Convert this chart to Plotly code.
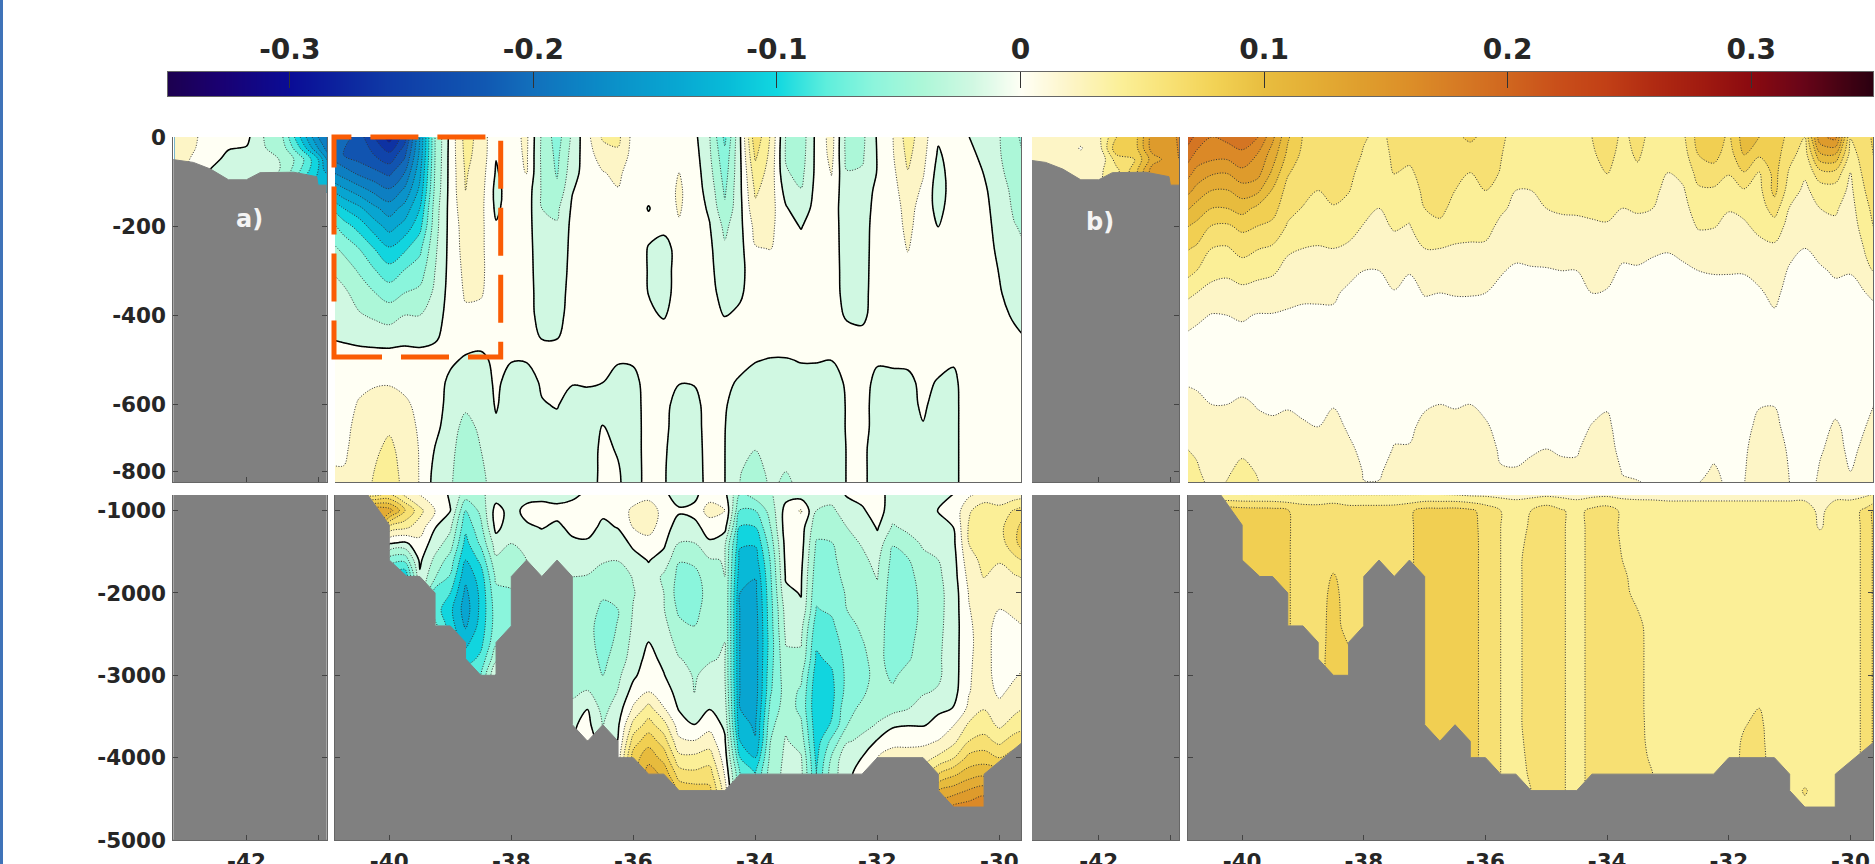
import numpy as np
import plotly.graph_objects as go

# ---------- data: field values in 0.01 units, one list per longitude ----------
lons = [-41,-40.75,-40.5,-40.25,-40,-39.75,-39.5,-39.25,-39,-38.75,-38.5,-38.25,-38,-37.75,-37.5,-37.25,-37,-36.75,-36.5,-36.25,-36,-35.75,-35.5,-35.25,-35,-34.75,-34.5,-34.25,-34,-33.75,-33.5,-33.25,-33,-32.75,-32.5,-32.25,-32,-31.75,-31.5,-31.25,-31,-30.75,-30.5,-30.25,-30,-29.75,-29.5]
upper_depths = [0,40,80,120,160,200,250,300,350,400,450,500,550,600,650,700,750,790]
lower_depths = [800,1000,1200,1400,1600,1800,2000,2200,2400,2600,2800,3000,3200,3400,3600,3800,4000,4200,4400,4600]
left_lons = [-43,-42.75,-42.5,-42.25,-42,-41.75,-41.5,-41.25,-41,-40.75]
left_depths = [0,25,50,75,100,125]

a_upper = [
[-18,-18.5,-15.5,-11.5,-7.5,-5,-3.2,-1.9,-1.2,-.7,-.05,1,1,1.1,1.6,1.8,2.1,2.4],
[-19,-20,-17,-13.5,-10,-7,-4.5,-2.8,-1.6,-1,-.3,1,1.5,1.5,1.6,1.7,2.1,2.5],
[-21,-21,-18.5,-15,-11.5,-8.8,-6,-4.2,-2.8,-1.8,-.6,1,1.7,2.1,2.4,2.7,3,3.2],
[-24,-22,-19.5,-16.5,-13.5,-11,-8,-5.8,-3.9,-2.3,-.8,1,1.9,2.3,2.8,3.5,4,4.2],
[-27,-23.5,-20.5,-17.7,-15,-12.8,-9.8,-7.2,-4.9,-2.8,-.9,1,1.9,2.5,3.6,4.6,5,5.2],
[-23,-20.5,-18,-15.6,-13.3,-11.3,-8.4,-5.9,-4,-2,-.6,1,1.7,2.2,2.6,3,3.3,3.5],
[-14,-13.5,-12.5,-11.5,-10,-8.7,-6.5,-5,-3.5,-2,-.8,1,1.5,1.7,1.8,1.9,1.9,1.9],
[-4,-4,-3.8,-3.5,-3,-2.8,-2.4,-2,-1.6,-1,-.3,1,1,1.2,.7,-.1,-.6,-.8],
[.6,.7,.7,.7,.7,.7,.7,.7,.8,.9,.9,.4,-.5,-1,-1.3,-1.5,-1.6,-1.7],
[4.8,4.5,4.2,4,3.5,3,2.8,2.5,2.2,1.7,1,-.3,-1,-1.7,-2.5,-3,-3.6,-4.2],
[3.3,3.3,3,2.8,2.6,2.5,2.4,2.4,2.2,1.4,.8,-.5,-1.2,-1.5,-1.7,-2,-2.3,-2.5],
[.3,.1,-.2,-.6,-.4,.2,.6,.8,.9,1,.7,.5,.4,.2,-.3,-.8,-1.2,-1.3],
[1.3,1.2,1,1,1,1,1,1,1,1,1,.1,-.8,-1.1,-1.3,-1.4,-1.5,-1.6],
[2.4,2.3,2.1,1.2,1,1,1,1,1,1,1,.1,-.7,-1,-1.2,-1.3,-1.4,-1.5],
[-2.3,-2.4,-2.3,-2.2,-2,-1.8,-1.5,-1.3,-1.1,-.9,-.1,.8,.2,-.1,-.4,-.6,-.7,-.8],
[-5,-4.5,-4.2,-3.6,-2.4,-1.8,-1.5,-1.3,-1,-.8,-.1,1,.5,.1,-.4,-.5,-.6,-.7],
[-1.6,-1.2,-.8,-.1,.3,.5,.6,.7,.8,1,1,.9,.1,-.6,-1,-1.1,-1.2,-1.3],
[1.5,1.2,1,1,1,1,1,1,1,1,1,.8,.2,-.7,-1,-1.1,-1.2,-1.2],
[4.3,3,1.9,1.4,1,1,1,1,1,1,1,.7,.02,-.8,.1,.5,.6,.7],
[4.5,3.6,2.4,1.9,1.2,1,1,1,1,1,1,.2,-.8,-1,-.7,-.2,.2,.3],
[1.3,1.2,1,1,1,1,1,1,1,1,1,.3,-.7,-1,-1.1,-1.1,-1.2,-1.2],
[1,1,1,.6,-.1,.5,-.1,-.1,-.05,.4,1,1,1,1,1,1,1,1],
[1,1,1,1,.9,.7,-1,-1,-.9,-.2,1,1,1,.6,.5,.3,.2,.2],
[1,1.2,2,2.3,2.2,1.8,1,1,1,1,1,1,.1,-.8,-1,-1.1,-1.2,-1.2],
[.5,.8,1,1,1,1,1,1,1,1,1,1,.15,-.7,-.9,-1,-1,-1],
[-1.9,-1.7,-1.3,-.8,-.3,.1,.4,.5,.6,.8,1,1,1,1,1,.9,.8,.7],
[-6.5,-5.5,-4.9,-4.3,-3.7,-2.5,-1.7,-1.2,-.7,-.1,1,1,.7,.2,.05,.02,.02,.02],
[-.2,-.3,-.4,-.4,-.5,-.5,-.6,-.7,-.3,.4,1,1,-.4,-1,-1.3,-1.6,-1.9,-2.1],
[7.5,6.4,5.2,4.3,3.6,2.6,1.9,1.5,1.1,1,1,.1,-.7,-1.1,-1.4,-1.95,-2.8,-3.5],
[3.8,3.5,3.2,3,2.8,2.5,2.05,1.4,1,1,1,-.1,-.6,-.9,-1.1,-1.3,-1.5,-1.7],
[-2.1,-2.2,-1.8,-.8,.2,.6,.8,1,1,1,1,-.1,-.7,-1,-1.3,-1.6,-1.99,-2.5],
[-3.2,-3,-2.6,-1.9,-1.2,-.1,.6,1,1,1,1,.1,-.6,-.9,-1,-1.2,-1.4,-1.6],
[.5,.5,.5,.6,.8,.9,1,1,1,1,1,.1,-.6,-.8,-.9,-1,-1,-1],
[2.8,2.6,2.1,1.5,1,1,1,1,1,1,1,.02,-.6,-.8,-.8,-.8,-.8,-.8],
[-2.7,-2.6,-1.9,-1.5,-1.2,-1.1,-1,-.9,-.8,-.3,.9,.8,.2,.1,.1,.05,.05,.05],
[-2.5,-2.3,-1.8,-1.4,-1.1,-1,-.9,-.8,-.7,-.5,.6,1,1,.9,.9,.5,.5,.5],
[.2,.1,.1,.6,.8,1,1,1,1,1,1,.3,-.7,-1,-1,-1,-1,-1],
[1.9,1.8,1.5,1.2,1,1,1,1,1,1,1,.3,-.5,-.9,-1,-1,-1,-1],
[5,4.5,3.9,3.3,2.8,2.5,2.1,1.5,1.2,1,1,.5,-.6,-.6,-.7,-.9,-1,-1],
[2.8,2.6,2.2,1.6,1.1,1,1,1,1,1,1,1,.6,.3,-.1,-.6,-.9,-1],
[.3,-.3,-.8,-1,-.6,-.05,.5,.7,.8,.9,.9,.8,-.2,-.7,-.9,-1,-1,-1],
[1,1,1,1,1,1,1,1,1,1,1,.2,-.4,-.5,-.5,-.5,-.5,-.5],
[.02,.4,.7,.8,.9,1,1,1,1,1,1,1,1,1,1,1,1,1],
[-.8,-.4,-.05,.2,.3,.4,.5,.6,.7,.8,1,1,1,1,1,1,1,1],
[-1.9,-1.8,-1.4,-.7,-.5,-.4,-.25,-.05,.1,.4,.7,1,1,1,1,1,1,1],
[-3.8,-3.6,-3.3,-2.8,-2.4,-1.9,-1.3,-.8,-.5,-.2,.3,1,1,1,1,1,1,1],
[-4.5,-4.3,-4,-3.5,-3,-2.6,-2.2,-1.7,-1.1,-.7,-.1,1,1,1,1,1,1,1],
]

b_upper = [
[22,20,18,15.5,13,10.5,8.5,7,5,3,1.9,1.5,1.9,2.8,3.6,4.2,5,5.5],
[19.5,17.5,15.3,13.4,11.2,9.5,7.7,6,4,2.4,1.5,1,1.7,2.5,3.1,3.7,4.3,4.8],
[18,16.8,14.3,12,10,7.9,6,4.7,3.3,1.9,1.3,1,1.3,2,2.4,2.8,3.1,3.7],
[18.6,16.7,14.1,11.9,10,7.7,5.8,4.4,3.2,2,1.4,1,1.3,2,2.7,3.3,3.8,4.2],
[19,17.6,15.4,13,10.8,8.5,6.7,5,3.4,2.2,1.5,1,1.4,2.3,3,3.7,4.4,4.9],
[18.2,15.9,14.8,12.5,9.5,8,6.1,4.6,3.2,1.9,1.4,1,1.2,1.9,2.4,3.3,3.9,4.2],
[14.5,13,11.6,9.8,8.8,7.5,5.7,4.3,3,1.9,1.4,1,1.2,1.8,2.2,2.6,3,3.2],
[10.3,9.5,8.2,7.3,6.6,5.8,4.3,3.4,2.5,1.8,1.3,1,1.2,1.9,2.3,2.6,2.9,3.1],
[7.9,7.5,7,6.6,5.9,5.1,4,3.2,2.3,1.7,1.3,1,1.1,1.6,2.2,2.4,2.6,2.7],
[7.6,7.2,6.8,6,5.2,4.7,3.9,3.1,2.3,1.7,1.2,1,1,1.3,2,2.4,2.6,2.7],
[7.6,7.2,6.7,6.4,5.9,5.2,4,3.1,2.3,1.7,1.2,1,1,1.9,2.5,2.8,3,3.1],
[7.4,7,6.5,6.1,5.4,4.7,3.7,2.6,1.6,1.2,1,.9,.9,1.1,1.8,2.3,2.9,3.6],
[6.2,5.8,5.3,5,4.6,3.9,3,2,1.5,1.1,1,.8,.8,1,1.3,1.6,1.9,2.1],
[5.5,5.3,5,4.6,4,3.5,2.8,2,1.5,1.1,1,.8,.8,.9,1,1.3,1.9,2.1],
[6.5,6.3,6.1,5.3,4.8,4.2,3.3,2.6,1.9,1.4,1,.8,.9,1.1,1.6,2.1,2.3,2.4],
[7.1,6.6,5.6,5.1,4.5,3.9,2.9,2.1,1.5,1.2,1,.8,.9,1.2,1.7,2.1,2.3,2.4],
[7.6,7.2,6.9,6.4,6,5.2,4,3.1,2.1,1.4,1.1,.8,1,1.8,2.4,2.6,2.7,2.8],
[7.8,7.5,7.2,6.9,6.5,5.6,4,3,2,1.4,1.1,.8,1,2,2.4,2.7,2.9,3],
[7.8,7.4,6.7,6,5.4,4.8,3.8,3,2.1,1.4,1.1,.8,1,1.9,2.4,2.7,2.9,3.1],
[8.2,7.5,6,5.5,5,4.5,3.8,3,2.1,1.4,1,.8,1.2,2,2.5,3,3.6,4.1],
[7.7,7.2,6.7,6,5.3,4.6,3.7,2.9,2,1.4,1,.8,1,1.6,2.2,2.6,2.9,3],
[6.3,6.1,5.9,4.9,4.3,3.6,2.9,2.1,1.7,1.4,1,.8,.9,1.2,1.5,1.8,2.1,2.2],
[5.4,5.1,4.6,4,3.6,3.1,2.4,1.8,1.4,1.1,1,.8,.8,1,1.3,1.6,2.1,2.2],
[5.2,4.9,4.5,4,3.5,3,2.4,1.9,1.5,1.2,1,.8,.9,1.1,1.4,1.9,2.2,2.3],
[5.2,5,4.7,4.4,4,3.3,2.6,1.9,1.5,1.2,1,.8,.9,1.1,1.5,2,2.3,2.4],
[5.2,5,4.8,4.5,4.2,3.6,2.7,2,1.5,1.2,1,.8,.9,1.1,1.5,1.9,2.2,2.3],
[5.5,5.3,5,4.7,4.2,3.7,2.8,2,1.6,1.3,1,.8,.9,1.1,1.4,1.9,2.2,2.3],
[6,5.8,5.2,4.7,4.3,3.8,3,2.4,2,1.4,1,.8,.9,1.4,2.1,2.4,2.6,2.7],
[6.8,6.5,6.1,5.2,4.6,3.8,3,2.4,1.9,1.4,1,.8,1,1.8,2.4,2.6,2.7,2.8],
[5.7,5.5,5,4.6,4,3.3,2.4,1.8,1.4,1.1,1,.8,.8,.9,1.1,1.5,1.95,2.2],
[6.4,6.2,5.7,4.8,4.2,3.5,2.6,1.8,1.4,1.1,1,.8,.8,.9,1.1,1.5,1.9,2.1],
[5.6,5.3,4.9,4.5,4,3.3,2.2,1.7,1.3,1.1,1,.8,.8,.9,1.1,1.4,1.9,2],
[5.4,5,4,3.4,3,2.7,2.1,1.6,1.2,1,1,.8,.8,.8,.9,1.1,1.4,1.6],
[5.6,5.1,4.5,3.8,3.4,3,2.3,1.8,1.4,1.1,1,.8,.8,.9,1.1,1.4,1.8,2],
[8.8,8,6.7,5.7,4.9,4.2,2.9,2,1.5,1.1,1,.8,.9,1,1.4,1.6,1.8,2.1],
[9.2,8.7,7.2,5.7,4.9,4.1,3,2.1,1.5,1.2,1,.8,.9,1,1.4,1.8,2.1,2.2],
[7.6,7,6.1,5.4,4.1,3.6,2.9,2.1,1.5,1.2,1,.8,.9,1,1.4,1.7,1.8,1.9],
[11,10,7.9,5.8,4.5,3.7,3,2.1,1.5,1.2,1,.8,.9,1,1.5,1.8,1.9,2],
[10,8.3,5.9,5.4,5,4.5,3.4,2.5,1.8,1.3,1,.8,1.2,1.9,2.4,2.6,2.8,2.9],
[9,8.9,8.7,8.6,6.9,5.1,3.6,2.9,2.4,1.8,1.2,.9,1.3,1.95,2.4,2.9,3.3,4.1],
[7.5,6.7,5.7,4.9,3.9,3.3,2.5,1.8,1.4,1.1,1,.8,.9,1.1,1.4,1.7,1.9,2.05],
[6,5,4.3,3.6,3,2.6,2,1.6,1.2,1,1,.8,.8,.9,1,1.2,1.4,1.6],
[15.5,11.6,7.3,4.9,4,3.4,2.5,1.8,1.3,1,1,.8,.8,1,1.5,1.9,2.1,2.2],
[16.8,11.8,7.4,5,4.2,3.7,2.9,2.2,1.6,1.2,1,.8,.9,1.6,2.2,2.3,2.5,2.7],
[6.1,5.2,4,3.6,3.3,3,2.6,2.1,1.5,1.2,1,.8,.9,1.3,1.6,1.8,2,2.1],
[7.5,7,6.8,6.1,5.5,5,4.2,3.6,2,1.5,1,.8,1,1.5,2,2.2,2.3,2.4],
[9,9,8.5,8,7.5,7,6,4.5,2.5,1.8,1.1,1.2,1.8,2.4,2.7,2.9,3,3.1],
]

# lower panels: columns stop where the sea floor hides the rest
a_lower = [
[5,14],[5,14],[5,14],[5,14],
[6,13,5.5,.1,-5,-8],
[3.5,8.5,4.5,-.5,-5.5,-10],
[1.9,4.6,3.1,1.3,.4,-.3],
[.9,2,.1,-1,-2.5,-3.8,-7,-7,-5.5],
[-.2,.05,-1.6,-3,-4.9,-6.2,-8,-9.5,-9],
[-3,-6,-7.5,-8.7,-10,-11.5,-12.5,-13,-12.3,-10.5,-9,-7],
[-2.4,-3.5,-4.5,-5.6,-7.5,-9,-9.5,-9.5,-9.2,-8.6,-7.5,-6],
[-1,.8,.6,-1,-2.4,-3.6,-4.5,-5,-5,-4.4,-2.5,.1],
[-1,-.8,-1.2,-2,-2.7,-3.4,-4.2,-4.4,-4.4],
[-.8,.6,-.3,-1,-2],
[-.4,.5,.1,-.8,-1.4,-1.9],
[-.7,.5,-.3,-1,-1.6],
[-.4,.7,.4,-.3,-1.2,-1.95,-3,-3,-3,-3,-3,-2.7,-2.2,-1.7,-.3],
[.3,1,.7,-.3,-1.2,-2.1,-2.8,-3.1,-3.4,-3.3,-3,-2.6,-1.9,-.05,.6,2.1,2.5],
[1,.4,-.4,-1,-1.9,-2.4,-3.7,-4.4,-4.8,-4.8,-4.5,-4,-3.4,-2.7,-2.1],
[.5,1,.1,-1,-1.95,-2.7,-3.4,-4,-3.9,-3.6,-3.1,-2.4,-1.9,-1,-.3,.1,1],
[1,2.4,2.1,.4,-.7,-1.9,-2.1,-1.9,-1.7,-1.4,-1.1,-.4,.8,2.3,4.6,7,9],
[1,3.6,3,1,.1,-.6,-1.2,-.6,-.2,.02,.7,1.2,2,4.7,6.8,9.2,11.3,13],
[.3,1,.7,.3,-.7,-2.4,-2,-1.9,-1.4,-.7,-.5,.1,1,2.1,4.7,7,9.2,11.5,13],
[-.7,.2,-.7,-2.1,-3.9,-4.5,-5,-4.4,-3.5,-2.8,-1.9,-1.5,-.8,-.2,1,2.4,4.6,7,9.5],
[-.4,.4,-.4,-2.1,-3.6,-4.6,-5.2,-4.8,-4,-3.2,-2.5,-2.1,-2.05,-1.3,.02,2.1,4.5,6.5,9],
[1,3,.6,-.2,-2.2,-3,-3,-2.8,-2.6,-2.3,-2.1,-1.7,-1,-.1,1.3,3,5,7,8.5],
[.5,2.1,.7,-1.7,-1.9,-2,-2,-2,-2,-2,-1.9,-1.9,-1.6,-1.1,-.4,.3,1,1.8,3],
[-4,-6.2,-8.2,-9.7,-10.7,-11.3,-12,-12.2,-12.2,-12.2,-12.2,-12.2,-12.1,-12,-11.5,-10,-8,-6],
[-3,-6,-8,-9.8,-10.9,-11.9,-12.5,-12.8,-13,-13,-13,-13,-13,-12.7,-12.2,-11.9,-10,-8],
[-2.2,-3.2,-4,-5,-5.8,-6.2,-6.5,-6.7,-6.8,-7,-6.8,-6.5,-6.2,-5.4,-4.6,-4,-3.4,-3],
[-.8,.8,1,.7,.5,.2,-.4,-1.2,-1.5,-1.9,-2.4,-2.8,-3.1,-3,-2.4,-1.8,-1.6,-1.5],
[-1,2.2,1,.8,.5,.2,.1,-.3,-1.4,-1.9,-2.3,-3.6,-4.3,-4.5,-3.7,-2.9,-1.8,-1.5],
[-1,-2,-3.3,-4.2,-4.7,-5.1,-5.6,-6.1,-7,-7.7,-8.3,-9,-9.4,-9.5,-9.3,-9,-8.5,-8],
[-1.2,-2.4,-3.3,-4.1,-4.5,-4.8,-5.2,-5.7,-6.4,-7,-7.6,-8.3,-8.6,-8.4,-7.8,-5.5,-3.8,-3],
[.2,-1,-2,-2.5,-3,-3.4,-3.8,-4,-4.6,-5.1,-5.4,-5.5,-5.3,-4.5,-4.1,-2.2,-.4,-.6],
[.7,-.3,-1.6,-1.9,-2.3,-2.8,-3,-3.4,-3.7,-4.1,-4.4,-4.6,-4.3,-3.7,-2.5,-1.6,.02,1],
[1,1,.2,-.8,-1.6,-1.9,-2.4,-2.8,-3.1,-3.2,-3.3,-3.4,-3.2,-2.6,-1.9,.2,2],
[-1,-1.2,-2.2,-3.9,-4.5,-4.9,-5,-5,-5,-5,-4.9,-4.3,-3.7,-2.8,-.3,1.2,3.2],
[-.7,-1.4,-1.6,-2.7,-4.2,-4.7,-4.8,-4.8,-4.7,-4.4,-4.2,-3.4,-2.9,-2.1,-.1,1.4,3],
[-.7,-1,-1.3,-1.8,-2.4,-3.1,-3.5,-3.6,-3.5,-3.4,-3.2,-2.9,-2.2,-1.2,-.15,1.5,3.2,5],
[-.6,.1,-.8,-1.6,-2,-2.4,-2.6,-2.6,-2.5,-2.4,-2.3,-2.3,-1.8,-.3,.5,2.1,4.4,8,12,15],
[.02,.6,.02,-.4,-.7,-.8,-1,-1,-1,-.9,-.9,-.9,-.7,.05,1.9,3.5,5.9,9.6,13,16.5],
[1.6,3.7,4.2,4,3.3,2.6,2.1,1.9,1.7,1.6,1.7,1.8,1.9,2.4,4.3,6,8.6,11,14.2,17],
[2.6,5.3,4.9,4.8,4.5,4.1,3.4,3,2.9,2.9,2.9,2.9,3,3.9,5,6.7,9,11.5,15,18],
[2.2,4.9,5.6,5.3,4.2,3.2,2.4,2,1.2,1,1,1.1,1.6,2.6,3.6,5.5,8,11],
[2.8,6.2,7,7,5.6,3.8,3,2.4,1.7,1.5,1.5,1.8,2.6,3.5,4.8,7,9],
[3,8,11,12,6.5,4.5,3.5,2.8,2.3,2,2,2.6,3.4,4.4,5.6,7.5,9],
]

b_lower = [
[4,9],[4,9],[4,9],[4,9.2],
[3.9,8.9,9],
[3.9,8.8,9],
[3.9,8.7,8.9,9],
[3.9,8.1,8.2],
[3.9,7.3,7.1,7],
[3.9,7.2,7,7.1,7,6.9,7],
[3.9,7.7,7.7,7.7,7.2,8.2,8.6,8.8,8.9,9,9.2,9.3],
[3.9,7,7,7,7,7,7,7,7.1,7.9,8.5,8.8],
[3.9,7],
[3.9,7],
[3.9,7.1],
[3.9,7.7],
[3.9,8.7,8.8],
[3.9,8.7,8.8],
[3.8,8.8,9],
[3.5,8.4,8.6,8.7],
[3.5,7.3,7.4],
[3.4,6,6],
[3.3,5.4,5.4,5.4,5.4,5.4,5.4,5.4,5.4,5.4,5.4,5.4,5.4,5.4,5.4,5.3,5.2,5.1,5],
[3.4,6,6.2,6.5,6.9,6.9,6.9,6.9,6.9,6.9,6.9,6.9,6.9,6.9,6.9,6.7,6.5,6.3,6],
[3.5,7.2,7.4],
[3.4,6.2],
[3.3,5.4],
[3.4,6.5],
[3.5,7],
[3.4,5.6,5.6,5.8,6,6.3,6.6,6.8,7],
[3.3,5.4,5.4,5.4,5.4,5.4,5.4,6,6.4,6.5,6.5,6.5,6.5,6.5,6.5,6.4,6.4,6.2],
[3.3,5.3,5.3,5.3,5.3,5.3,5.3,5.3,5.3,5.3,5.3,5.3,5.3,5.3,5.4,5.6,5.8,6],
[3.3,5],
[3.3,5],
[3.3,5],
[3.3,5],
[3.3,5,5,5,5,5,5,5,5,5,5,5,5,5.1,5.2,5.3,5.3],
[3.3,5,5,5,5,5,5,5,5,5,5,5,5.1,5.3,5.9,6.2,6.3],
[3.3,5,5,5,5,5,5,5,5,5,5,5,5.4,6,6.4,6.5,6.6],
[3.3,5,5,5,5,5,5,5,5,5,5,5,5,5,5,5.1,5.2],
[3.3,5],
[3.3,5,5,5,5,5,5,5,5,5,5,5,5,5,5,5,5,5,6.2,5.5],
[3.2,3.5,3.8,5],
[3.4,5],
[3.4,5.1],
[3.6,6.5],
[4.5,10],
]

a_left = [
[3,3,3,3,3,3],[2.4,2.2,1.8,1.5,1.5,1.5],[1,1,.6,-.1,-.6,-.6],[.9,.1,-.5,-1,-1,-1],[.5,-.1,-.8,-1,-1.1,-1.1],
[-2.1,-1.9,-1.2,-1.5,-1.95,-2.5],[-3.8,-3,-2.2,-2.1,-3.2,-3.5],[-10,-8,-5,-6,-8,-9],[-16,-14,-10,-10,-10.5,-11],[-19,-19.5,-18.5,-16,-12,-9],
]
b_left = [
[3,3,3,3,3,3],[2.8,3,3,3,3,3],[2.2,2.8,3,3,3,3],[2.5,1.9,2.5,3,3,3],[3.5,3,2.2,3.5,3.5,3.5],
[8,9.5,7,5.5,6,6],[9,9,8,9,9,9],[15,15,13,15,15,15],[15,15,15,15,15,15],[18,17.5,17,16,14.5,13],
]

# sea floor (depth in m)
floor_lon = [-41,-40.36,-40,-40,-39.71,-39.5,-39.25,-39.25,-39,-38.75,-38.75,-38.5,-38.25,-38.25,-38,-38,-37.75,-37.5,-37.25,-37,-37,-36.75,-36.5,-36.25,-36.25,-36,-35.75,-35.5,-35.25,-34.5,-34.25,-32.25,-32,-31.25,-31,-31,-30.75,-30.25,-30.25,-29.6]
floor_depth = [800,800,1175,1600,1800,1800,2000,2400,2400,2600,2800,3000,3000,2600,2400,1800,1600,1800,1600,1800,3600,3800,3600,3800,4000,4000,4200,4200,4400,4400,4200,4200,4000,4000,4200,4400,4600,4600,4200,3800]
shelf_lon = [-43.1,-42.74,-42.5,-42.25,-42,-41.81,-41.34,-41.02,-41,-40.8]
shelf_depth = [49,57,72,96,96,80,79,89,108,108]
deep_lon = [-44,-40]
deep_depth = [800,800]

bar_values = [-.35,-.33,-.3,-.26,-.22,-.2,-.18,-.16,-.14,-.12,-.1,-.08,-.06,-.04,-.02,0,.02,.04,.06,.08,.1,.12,.14,.16,.18,.2,.22,.24,.26,.28,.3,.32,.35]
bar_colors = ['#1c0050','#1a0070','#0a0c96','#0f3aa6','#1158b2','#1270bc','#0c84c4','#0a97cb','#08a8d2','#08bcd8','#12d8e0','#5eeedc','#8df5dc','#adf7d8','#d0f8e2','#fffff5','#fdf5c8','#fbf09a','#f8e276','#f2d255','#e8bd3f','#e4ae35','#df9e2d','#dc8e28','#d67a24','#d0661f','#c94f1a','#c24016','#b02a12','#a01a10','#8a0a10','#6a0518','#2a0010']
bar_ramp = [-.36,-.32,-.28,-.24,-.2,-.16,-.12,-.08,-.06,-.04,-.02,0,.02,.04,.06,.08,.12,.16,.2,.24,.28,.32,.36]
bar_ticks = [-.3,-.2,-.1,0,.1,.2,.3]
bar_labels = ['-0.3','-0.2','-0.1','0','0.1','0.2','0.3']

upper_ticks = [0,-200,-400,-600,-750]
upper_labels = ['0','-200','-400','-600','-800']
lower_ticks = [-1000,-2000,-3000,-4000,-5000]
lower_labels = ['-1000','-2000','-3000','-4000','-5000']
wide_ticks = [-40,-38,-36,-34,-32,-30]
wide_labels = ['-40','-38','-36','-34','-32','-30']
narrow_ticks = [-42,-41]
narrow_labels = ['-42','']

# ---------- styling ----------
W, H = 1875, 864
FONT = dict(family='DejaVu Sans', weight='bold', color='#262626')
AXC = '#666666'
start, end, step = -0.36, 0.36, 0.02
vmin = start - step / 2
vspan = (end - start) + step
panel_scale = [[0, bar_colors[0]]] + [[(v + 0.01 - vmin) / vspan, c] for v, c in zip(bar_values, bar_colors)] + [[1, bar_colors[-1]]]
bar_scale = [[(v + .35) / .7, c] for v, c in zip(bar_values, bar_colors)]

def grid(columns, n):
    cols = [list(c) + [c[-1]] * (n - len(c)) for c in columns]
    return (np.array(cols, dtype=float).T / 100.0)[::-1]

def xd(a, b): return [a / W, b / W]
def yd(t, b): return [1 - b / H, 1 - t / H]

fig = go.Figure()

def field(ax, lon, depth, z):
    y = [-d for d in depth][::-1]
    fig.add_trace(go.Contour(x=lon, y=y, z=z, xaxis='x' + ax, yaxis='y' + ax, showscale=False, hoverinfo='skip',
        colorscale=panel_scale, zmin=start, zmax=end, autocontour=False,
        contours=dict(start=start, end=end, size=step, coloring='fill', showlines=True),
        line=dict(color='#333333', width=1, dash='1px,1.6px')))
    fig.add_trace(go.Contour(x=lon, y=y, z=z, xaxis='x' + ax, yaxis='y' + ax, showscale=False, hoverinfo='skip',
        autocontour=False, colorscale=[[0, 'black'], [1, 'black']],
        contours=dict(start=0, end=0, size=1, coloring='lines'), line=dict(color='#111111', width=1.5)))

def land(ax, lon, depth, bottom):
    xs = list(lon) + [lon[-1], lon[0]]
    ys = [-d for d in depth] + [bottom, bottom]
    fig.add_trace(go.Scatter(x=xs, y=ys, xaxis='x' + ax, yaxis='y' + ax, mode='lines', fill='toself',
        fillcolor='#808080', line=dict(color='#808080', width=1), hoverinfo='skip', showlegend=False))

field('1', left_lons, left_depths, grid(a_left, len(left_depths)))
land('1', shelf_lon, shelf_depth, -900)
field('2', lons, upper_depths, grid(a_upper, len(upper_depths)))
land('3', deep_lon, deep_depth, -5000)
field('4', lons, lower_depths, grid(a_lower, len(lower_depths)))
land('4', floor_lon, floor_depth, -5000)
field('5', left_lons, left_depths, grid(b_left, len(left_depths)))
land('5', shelf_lon, shelf_depth, -900)
field('6', lons, upper_depths, grid(b_upper, len(upper_depths)))
land('7', deep_lon, deep_depth, -5000)
field('8', lons, lower_depths, grid(b_lower, len(lower_depths)))
land('8', floor_lon, floor_depth, -5000)

fig.add_trace(go.Heatmap(x=bar_ramp, y=[0, 1], z=[bar_ramp, bar_ramp], zsmooth='best', colorscale=bar_scale,
    zmin=-.35, zmax=.35, showscale=False, hoverinfo='skip', xaxis='x9', yaxis='y9'))

def xaxis(dom, rng, tv, tt, labels):
    return dict(domain=dom, range=rng, tickmode='array', tickvals=tv, ticktext=tt, showticklabels=labels, automargin=False,
        ticks='inside', ticklen=5, tickwidth=1, tickcolor='#444444', showline=True, linecolor=AXC, linewidth=1,
        showgrid=False, zeroline=False, tickfont=dict(size=21.5, **FONT), ticklabelstandoff=2, tickangle=0)

def yaxis(dom, rng, tv, tt, labels, side='left', mirror=False, ticks='inside', line=True, anchor='x'):
    return dict(domain=dom, range=rng, tickmode='array', tickvals=tv, ticktext=tt, showticklabels=labels, side=side, automargin=False,
        ticks=ticks, ticklen=5, tickwidth=1, tickcolor='#444444', showline=line, linecolor=AXC, linewidth=1, mirror=mirror,
        showgrid=False, zeroline=False, tickfont=dict(size=21.5, **FONT), ticklabelstandoff=2, anchor=anchor)

TOP, MID, LOW, BOT = 137, 482, 495, 840
a_nx, a_wx, b_nx, b_wx = (173.3, 326.7), (335, 1021), (1032, 1179), (1188, 1873)
a_nr, a_wr, b_nr, b_wr = [-43.02, -40.88], [-40.89, -29.645], [-42.93, -40.88], [-40.89, -29.63]
ur, lr = [-774, 0], [-5000, -810]

layout = dict(
    template='none',
    width=W, height=H, margin=dict(l=0, r=0, t=0, b=0, pad=0), paper_bgcolor='white', plot_bgcolor='white', showlegend=False, autosize=False,
    xaxis =dict(xaxis(xd(*a_nx), a_nr, narrow_ticks, narrow_labels, False), anchor='y'),
    xaxis2=dict(xaxis(xd(*a_wx), a_wr, wide_ticks, wide_labels, False), anchor='y2', ticks=''),
    xaxis3=dict(xaxis(xd(*a_nx), a_nr, narrow_ticks, narrow_labels, True), anchor='y3'),
    xaxis4=dict(xaxis(xd(*a_wx), a_wr, wide_ticks, wide_labels, True), anchor='y4'),
    xaxis5=dict(xaxis(xd(*b_nx), b_nr, narrow_ticks, narrow_labels, False), anchor='y5'),
    xaxis6=dict(xaxis(xd(*b_wx), b_wr, wide_ticks, wide_labels, False), anchor='y6', ticks=''),
    xaxis7=dict(xaxis(xd(*b_nx), b_nr, narrow_ticks, narrow_labels, True), anchor='y7'),
    xaxis8=dict(xaxis(xd(*b_wx), b_wr, wide_ticks, wide_labels, True), anchor='y8'),
    yaxis =yaxis(yd(TOP, MID), ur, upper_ticks, upper_labels, True, mirror='ticks', anchor='x'),
    yaxis2=yaxis(yd(TOP, MID), ur, upper_ticks, upper_labels, False, side='right', ticks='', anchor='x2'),
    yaxis3=yaxis(yd(LOW, BOT), lr, lower_ticks, lower_labels, True, mirror='ticks', anchor='x3'),
    yaxis4=yaxis(yd(LOW, BOT), lr, lower_ticks, lower_labels, False, mirror='ticks', anchor='x4'),
    yaxis5=yaxis(yd(TOP, MID), ur, upper_ticks, upper_labels, False, side='right', anchor='x5'),
    yaxis6=yaxis(yd(TOP, MID), ur, upper_ticks, upper_labels, False, side='right', ticks='', anchor='x6'),
    yaxis7=yaxis(yd(LOW, BOT), lr, lower_ticks, lower_labels, False, side='right', anchor='x7'),
    yaxis8=yaxis(yd(LOW, BOT), lr, lower_ticks, lower_labels, False, mirror='ticks', anchor='x8'),
    xaxis9=dict(domain=xd(168, 1873), range=[-.35, .35], side='top', anchor='y9', tickmode='array', tickvals=bar_ticks, ticktext=bar_labels, automargin=False,
        ticks='inside', ticklen=16, tickwidth=1, tickcolor='#333333', showline=True, linecolor='#666666', linewidth=1, mirror=True,
        showgrid=False, zeroline=False, tickfont=dict(size=28, **FONT), ticklabelstandoff=1, tickangle=0),
    yaxis9=dict(domain=yd(72, 96), range=[0, 1], anchor='x9', showticklabels=False, ticks='', showgrid=False, zeroline=False, automargin=False,
        showline=True, linecolor='#666666', linewidth=1, mirror=True),
)

# dashed box: drawn from the bottom-left corner so the dashes fall as in the original
bx0, bx1, by0, by1 = 334 / W, 500.7 / W, 1 - 357 / H, 1 - 137 / H
layout['shapes'] = [
    dict(type='path', xref='paper', yref='paper', layer='above',
         path=f'M {bx0},{by0} L {bx1},{by0} L {bx1},{by1} L {bx0},{by1} Z',
         line=dict(color='#fa5c04', width=5, dash='48px,19px')),
    dict(type='rect', xref='paper', yref='paper', x0=0, x1=3 / W, y0=0, y1=1, fillcolor='#3f73b8', line=dict(width=0), layer='above'),
]
layout['annotations'] = [
    dict(text='a)', xref='paper', yref='paper', x=249 / W, y=1 - 219 / H, xanchor='center', yanchor='middle', showarrow=False, font=dict(family='DejaVu Sans', weight='bold', size=24, color='#f4f4f4')),
    dict(text='b)', xref='paper', yref='paper', x=1100 / W, y=1 - 222 / H, xanchor='center', yanchor='middle', showarrow=False, font=dict(family='DejaVu Sans', weight='bold', size=24, color='#f4f4f4')),
]
fig.update_layout(**layout)
fig.write_html('out.html', config={'displayModeBar': False}, post_script="document.body.style.margin='0';document.body.style.overflow='hidden';")
